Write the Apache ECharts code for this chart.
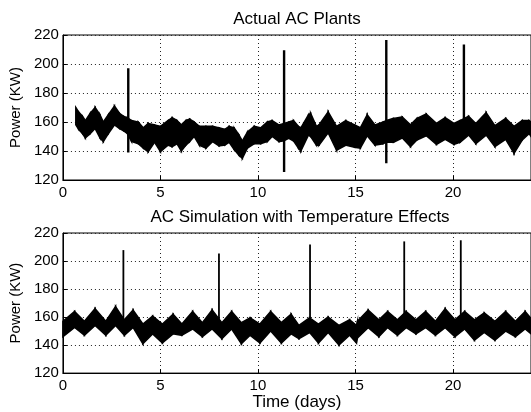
<!DOCTYPE html>
<html>
<head>
<meta charset="utf-8">
<script src="https://cdn.jsdelivr.net/npm/echarts@6/dist/echarts.min.js"></script>
<style>
html, body { margin: 0; padding: 0; background: #fff; }
#chart { width: 531px; height: 412px; }
</style>
</head>
<body>
<div id="chart"></div>
<script>
var FONT = '"Liberation Sans", Arial, Helvetica, sans-serif';

var xTicks = [0, 5, 10, 15, 20];
var yTicks = [120, 140, 160, 180, 200, 220];

// top plot: envelope of the measured signal (days, KW)
var topT = [0.66, 0.8, 1.0, 1.15, 1.4, 1.65, 1.9, 2.07, 2.33, 2.64, 2.9, 3.1, 3.3, 3.52, 3.86, 4.12,
    4.37, 4.7, 5.0, 5.39, 5.6, 5.85, 6.07, 6.3, 6.5, 6.73, 7.0, 7.33, 7.67, 8.0, 8.3, 8.52, 8.78,
    9.03, 9.2, 9.46, 9.8, 10.14, 10.48, 10.73, 11.07, 11.33, 11.58, 11.82, 12.07, 12.2, 12.59, 12.7,
    13.0, 13.13, 13.6, 14.03, 14.5, 14.96, 15.25, 15.6, 16.0, 16.41, 16.6, 16.95, 17.4, 17.82, 18.15,
    18.63, 19.15, 19.6, 20.05, 20.36, 20.8, 21.17, 21.7, 22.15, 22.7, 23.13, 23.55, 23.9, 24.0];
var topUpper = [170, 167, 164, 161, 166, 170, 165, 160, 165, 171, 166, 164, 163, 161, 160, 156,
    159, 158, 157, 161, 163, 161, 158, 161, 162, 160, 157, 157, 157, 156, 155, 157, 156,
    151, 147, 153, 157, 156, 160, 161, 158, 159, 160, 161, 157, 156, 165, 166,
    157, 158, 167, 157, 161, 158, 156, 165, 158, 160, 161, 162.5, 163.5, 158, 162.5,
    165.5, 159, 163, 159, 161, 164, 159, 166.5, 157.5, 162.5, 157, 161, 161, 160];
var topLower = [158, 155, 152, 149, 152, 155.5, 149, 146.5, 152, 158, 155.5, 154, 152, 146.5, 145, 142,
    139.5, 146, 139.5, 144, 143, 145, 140, 144, 146.5, 150, 144, 142, 146.5, 143.5, 144, 146, 141,
    137, 135, 142, 145, 145, 146.5, 150, 146.5, 147, 148.8, 147, 142, 140, 151, 150,
    144, 144, 152.5, 140.5, 144, 142.5, 142, 150.5, 144, 145, 146, 146, 149, 143, 147.6,
    150.5, 144.5, 148, 144.5, 146, 151, 145, 151, 143, 148, 138.4, 147.6, 152, 150];
var topSpikeT = [3.35, 11.34, 16.58, 20.56];
var topSpikeLo = [139, 125.5, 131.5, 152];
var topSpikeHi = [197, 209.5, 216.5, 213.5];

// bottom plot: envelope of the simulated signal
var botT = [0.0, 0.6, 1.1, 1.65, 2.2, 2.7, 3.15, 3.6, 4.1, 4.6, 5.1, 5.65, 6.1, 6.65, 7.15, 7.65,
    8.15, 8.65, 9.15, 9.6, 10.1, 10.65, 11.2, 11.7, 12.1, 12.65, 13.1, 13.6, 14.15, 14.7, 15.05, 15.1,
    15.65, 16.2, 16.65, 17.15, 17.6, 18.1, 18.6, 19.1, 19.6, 20.1, 20.6, 21.1, 21.6, 22.15, 22.7,
    23.2, 23.7, 24.0];
var botUpper = [157, 164, 157, 166, 157, 167.5, 158, 165, 155, 160.7, 155, 162, 155, 164, 156, 165,
    156, 164, 156, 159.5, 155, 164, 156, 162, 154, 159.5, 155, 160, 154, 158, 154, 157,
    165, 158, 164, 158, 164, 158, 164, 157, 166, 158, 164, 158, 163, 157, 164,
    157, 164, 159];
var botLower = [146, 152.6, 147, 154, 147, 154, 147, 152.6, 141, 148, 141.5, 148, 147, 151.5, 146, 151.5,
    144.6, 151.5, 141, 147, 141.5, 150, 141.5, 148, 144.6, 149, 141.5, 149, 140, 147, 141.5, 145,
    152.5, 146, 152.5, 147, 152.5, 148, 152.5, 147, 152.5, 146, 151.5, 143.5, 149, 143.5, 150,
    146, 151.5, 148];
var botSpikeT = [3.1, 8.0, 12.67, 17.5, 20.4];
var botSpikeLo = [156, 156, 155, 155, 156];
var botSpikeHi = [207.8, 205.4, 211.8, 214, 214.8];

function segments(t, up, lo) {
    var out = [];
    for (var i = 0; i < t.length - 1; i++) {
        out.push([t[i], t[i + 1], up[i], up[i + 1], lo[i], lo[i + 1]]);
    }
    return out;
}

function renderBand(params, api) {
    var p1 = api.coord([api.value(0), api.value(2)]);
    var p2 = api.coord([api.value(1), api.value(3)]);
    var p3 = api.coord([api.value(1), api.value(5)]);
    var p4 = api.coord([api.value(0), api.value(4)]);
    return {
        type: 'polygon',
        shape: { points: [p1, p2, p3, p4] },
        style: { fill: '#000', stroke: '#000', lineWidth: 1.5 }
    };
}

function spikeSeries(ts, los, his, axisIdx, width) {
    var list = [];
    for (var i = 0; i < ts.length; i++) {
        list.push({
            type: 'line',
            xAxisIndex: axisIdx,
            yAxisIndex: axisIdx,
            showSymbol: false,
            silent: true,
            lineStyle: { color: '#000', width: width },
            data: [[ts[i], los[i]], [ts[i], his[i]]]
        });
    }
    return list;
}

function makeX(idx, withName) {
    var ax = {
        type: 'value',
        gridIndex: idx,
        min: 0,
        max: 24,
        interval: 5,
        axisLine: { show: true, lineStyle: { color: '#000', width: 1 } },
        axisTick: { show: true, inside: true, length: 4, lineStyle: { color: '#000' }, customValues: xTicks },
        axisLabel: { color: '#000', fontSize: 15, fontFamily: FONT, margin: 5, customValues: xTicks },
        splitLine: { show: true, lineStyle: { color: '#222', type: [1, 3], width: 1 } }
    };
    if (withName) {
        ax.name = 'Time (days)';
        ax.nameLocation = 'middle';
        ax.nameGap = 20;
        ax.nameTextStyle = { color: '#000', fontSize: 17, fontFamily: FONT };
    }
    return ax;
}

function makeY(idx) {
    return {
        type: 'value',
        gridIndex: idx,
        min: 120,
        max: 220,
        interval: 20,
        name: 'Power (KW)',
        nameLocation: 'middle',
        nameGap: 38,
        nameTextStyle: { color: '#000', fontSize: 15, fontFamily: FONT },
        axisLine: { show: true, lineStyle: { color: '#000', width: 1 } },
        axisTick: { show: true, inside: true, length: 4, lineStyle: { color: '#000' }, customValues: yTicks },
        axisLabel: { color: '#000', fontSize: 15, fontFamily: FONT, margin: 4, customValues: yTicks },
        splitLine: { show: true, lineStyle: { color: '#222', type: [1, 3], width: 1 } }
    };
}

var series = [
    {
        type: 'custom',
        xAxisIndex: 0,
        yAxisIndex: 0,
        renderItem: renderBand,
        encode: { x: [0, 1], y: [2, 3, 4, 5] },
        silent: true,
        data: segments(topT, topUpper, topLower)
    },
    {
        type: 'custom',
        xAxisIndex: 1,
        yAxisIndex: 1,
        renderItem: renderBand,
        encode: { x: [0, 1], y: [2, 3, 4, 5] },
        silent: true,
        data: segments(botT, botUpper, botLower)
    }
].concat(spikeSeries(topSpikeT, topSpikeLo, topSpikeHi, 0, 2.4))
 .concat(spikeSeries(botSpikeT, botSpikeLo, botSpikeHi, 1, 1.8));

var chart = echarts.init(document.getElementById('chart'), null, { renderer: 'canvas' });
chart.setOption({
    animation: false,
    backgroundColor: '#fff',
    grid: [
        { left: 61, top: 35, width: 471, height: 145, show: true, borderColor: '#000', borderWidth: 1 },
        { left: 61, top: 233, width: 471, height: 144, show: true, borderColor: '#000', borderWidth: 1 }
    ],
    graphic: [
        { type: 'text', x: 297, y: 19, style: { text: 'Actual AC Plants', textAlign: 'center', textVerticalAlign: 'middle', font: '17px ' + FONT, fill: '#000' } },
        { type: 'text', x: 300, y: 217, style: { text: 'AC Simulation with Temperature Effects', textAlign: 'center', textVerticalAlign: 'middle', font: '17px ' + FONT, fill: '#000' } }
    ],
    xAxis: [makeX(0, false), makeX(1, true)],
    yAxis: [makeY(0), makeY(1)],
    series: series
});
</script>
</body>
</html>
